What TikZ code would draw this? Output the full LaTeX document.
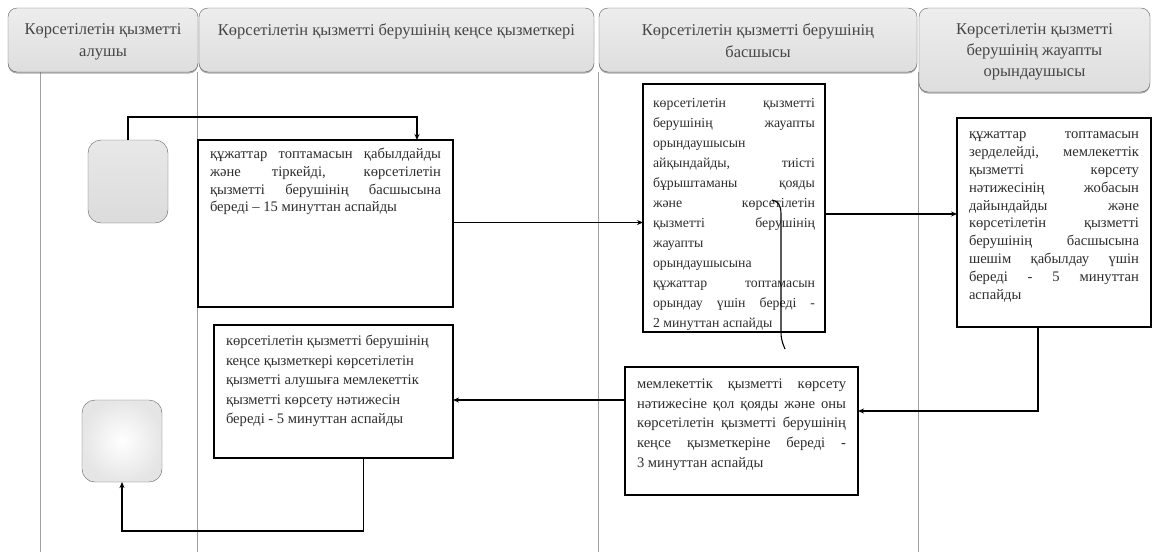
\documentclass[tikz,border=0pt]{standalone}
\usepackage{fontspec}
\setmainfont{Liberation Serif}
\usetikzlibrary{arrows.meta}
\usetikzlibrary{shadows}
\definecolor{lgray}  {RGB}{160,160,160}
\definecolor{hgray}  {RGB}{95,95,95}
\definecolor{tgray}  {RGB}{45,45,45}
\definecolor{htext}  {RGB}{70,70,70}
% box text: width, height, line skip, top pad, text
\newcommand{\stepbody}[5]{\parbox[c][#2][t]{#1}{\sloppy\hyphenpenalty=10000
  \setlength{\baselineskip}{#3}\vspace*{#4}#5}}
\newcommand{\headbody}[3]{\parbox[c][#2][t]{#1}{\centering
  \setlength{\baselineskip}{22pt}\vspace*{16pt}#3}}
\tikzset{
    lanehead/.style={draw=hgray, rounded corners=9pt, top color=gray!14,
      bottom color=gray!26, inner sep=0pt, outer sep=0pt, anchor=north west,
      drop shadow={shadow xshift=0pt, shadow yshift=-1.5pt, fill=gray!70!black},
      text=htext, font=\fontsize{16.5}{22}\selectfont},
    stepbox/.style={draw=black, line width=1.4pt, fill=white, inner xsep=12pt,
      inner ysep=0pt, outer sep=0pt, anchor=north west, text=tgray,
      font=\fontsize{14.6}{18}\selectfont},
    terminal/.style={draw=hgray, rounded corners=13pt, minimum width=80pt,
      minimum height=83pt, anchor=north west, outer sep=0pt},
    flow/.style={draw=black, line width=1.3pt, -{Stealth[length=6pt,width=5pt]}},
    lanesep/.style={draw=lgray, line width=0.8pt}
  }
\begin{document}
\begin{tikzpicture}[x=1pt, y=-1pt]
 \useasboundingbox (0,0) rectangle (1153,552);
 %lane separators
     \draw[lanesep] (40,72) -- (40,552);
     \draw[lanesep] (197,72) -- (197,552);
     \draw[lanesep] (598,72) -- (598,552);
     \draw[lanesep] (918,72) -- (918,552);
 %lane heads
     \node[lanehead] (head1) at (8,8) {\headbody{190pt}{64pt}{Көрсетілетін қызметті\\алушы}};
     \node[lanehead] (head2) at (199,8) {\headbody{395pt}{64pt}{Көрсетілетін қызметті берушінің кеңсе қызметкері}};
     \node[lanehead] (head3) at (599,8) {\headbody{318pt}{64pt}{Көрсетілетін қызметті берушінің\\басшысы}};
     \node[lanehead] (head4) at (919,8) {\headbody{231pt}{84pt}{\setlength{\baselineskip}{21pt}Көрсетілетін қызметті\\берушінің жауапты\\орындаушысы}};
 %start and finish
     \node[terminal, top color=gray!18, bottom color=gray!28] (start) at (88,140) {};
     \node[terminal, minimum height=82pt, inner color=white, outer color=gray!20] (finish) at (82,400) {};
 %steps
     \node[stepbox] (recv) at (198,140) {\stepbody{231pt}{167pt}{17.8pt}{8pt}{құжаттар топтамасын қабылдайды\linebreak
       және тіркейді, көрсетілетін\linebreak қызметті берушінің басшысына\linebreak береді – 15 минуттан аспайды}};
     \node[stepbox, inner xsep=10pt, font=\fontsize{13.8}{18}\selectfont] (assign) at (643,84) {\stepbody{162pt}{248pt}{20pt}{14pt}{%
       көрсетілетін қызметті\linebreak берушінің жауапты\linebreak орындаушысын\\ айқындайды, тиісті\linebreak
       бұрыштаманы қояды\linebreak және көрсетілетін\linebreak қызметті берушінің\linebreak жауапты\\
       орындаушысына\\ құжаттар топтамасын\linebreak орындау үшін береді -\linebreak 2 минуттан аспайды}};
     \node[stepbox] (study) at (957,118) {\stepbody{170pt}{209pt}{17.8pt}{14pt}{%
       құжаттар топтамасын\linebreak зерделейді, мемлекеттік\linebreak қызметті көрсету\linebreak
       нәтижесінің жобасын\linebreak дайындайды және\linebreak көрсетілетін қызметті\linebreak
       берушінің басшысына\linebreak шешім қабылдау үшін\linebreak береді - 5 минуттан\linebreak аспайды}};
     \node[stepbox] (sign) at (625,367) {\stepbody{209pt}{128pt}{19.6pt}{12pt}{%
       мемлекеттік қызметті көрсету\linebreak нәтижесіне қол қояды және оны\linebreak
       көрсетілетін қызметті берушінің\linebreak кеңсе қызметкеріне береді -\linebreak 3 минуттан аспайды}};
     \node[stepbox] (issue) at (214,325) {\stepbody{215pt}{133pt}{19.6pt}{10pt}{\raggedright
       көрсетілетін қызметті берушінің\\ кеңсе қызметкері көрсетілетін\\ қызметті алушыға мемлекеттік\\
       қызметті көрсету нәтижесін\\ береді - 5 минуттан аспайды}};
 %flows
     \draw[flow] (start.north) -- ++(0,-23) -| ([xshift=-36pt]recv.north east);
     \draw[flow] ([yshift=1pt]recv.east) -- ([yshift=1pt]recv.east -| assign.west);
     \draw[flow] ([yshift=-6pt]assign.east) -- ([yshift=-6pt]assign.east -| study.west);
     \draw[flow] ([xshift=-16pt]study.south) |- ([yshift=20pt]sign.east);
     \draw[flow] ([yshift=31pt]sign.west) -- ([yshift=31pt]sign.west -| issue.east);
     \draw[flow] ([xshift=30pt]issue.south) -- ++(0,73) -| (finish.south);
 %stray line
     \draw[black, line width=1.1pt] (772,200) .. controls (778,201) and (781,205) .. (781,214)
        -- (781,332) .. controls (781,340) and (783,344) .. (785,349);
\end{tikzpicture}
\end{document}
